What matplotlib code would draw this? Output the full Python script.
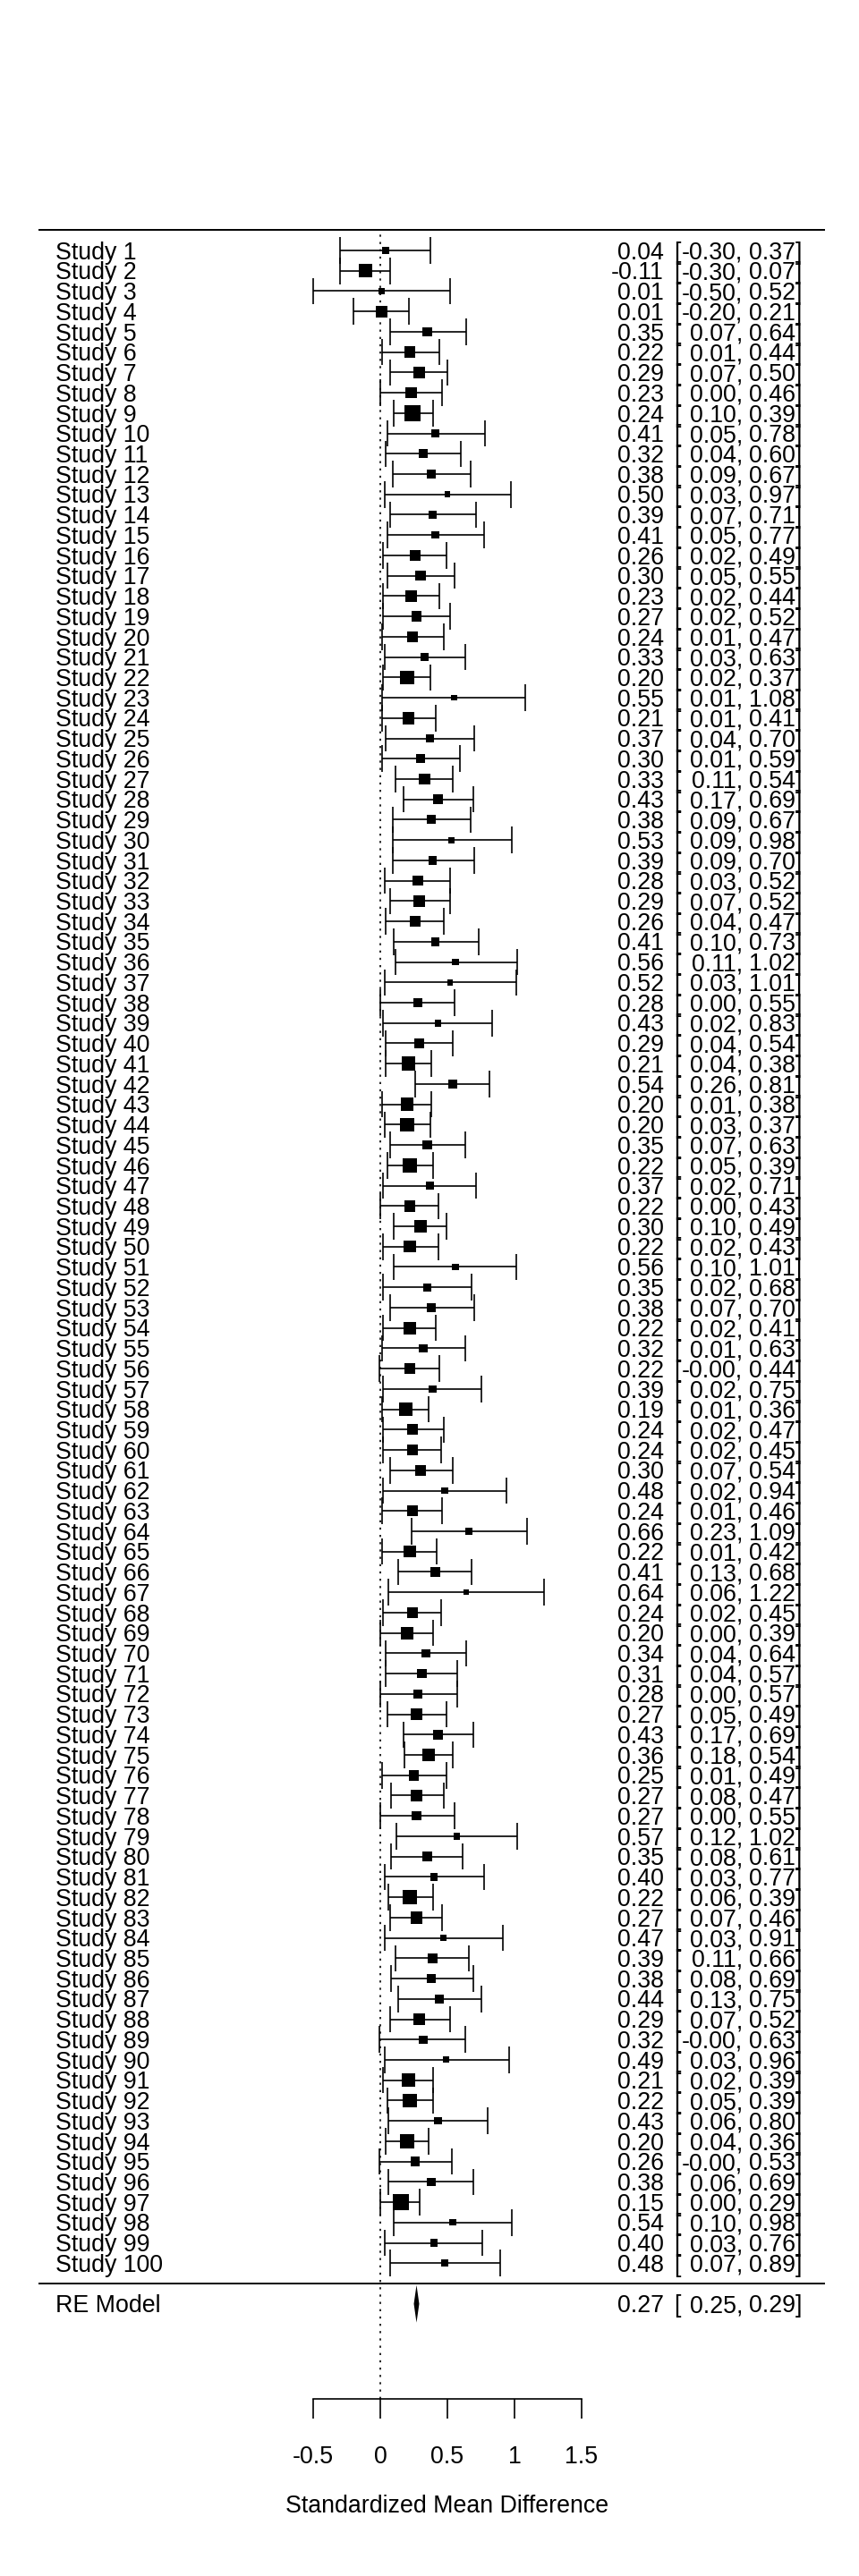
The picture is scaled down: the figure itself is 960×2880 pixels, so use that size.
import numpy as np
import matplotlib.pyplot as plt

plt.rcParams['font.family'] = ['Liberation Sans', 'DejaVu Sans']

# effect sizes (SMD) and 95% CI
est = [0.04, -0.11, 0.01, 0.01, 0.35, 0.22, 0.29, 0.23, 0.24, 0.41,
       0.32, 0.38, 0.50, 0.39, 0.41, 0.26, 0.30, 0.23, 0.27, 0.24,
       0.33, 0.20, 0.55, 0.21, 0.37, 0.30, 0.33, 0.43, 0.38, 0.53,
       0.39, 0.28, 0.29, 0.26, 0.41, 0.56, 0.52, 0.28, 0.43, 0.29,
       0.21, 0.54, 0.20, 0.20, 0.35, 0.22, 0.37, 0.22, 0.30, 0.22,
       0.56, 0.35, 0.38, 0.22, 0.32, 0.22, 0.39, 0.19, 0.24, 0.24,
       0.30, 0.48, 0.24, 0.66, 0.22, 0.41, 0.64, 0.24, 0.20, 0.34,
       0.31, 0.28, 0.27, 0.43, 0.36, 0.25, 0.27, 0.27, 0.57, 0.35,
       0.40, 0.22, 0.27, 0.47, 0.39, 0.38, 0.44, 0.29, 0.32, 0.49,
       0.21, 0.22, 0.43, 0.20, 0.26, 0.38, 0.15, 0.54, 0.40, 0.48]
ci_lb = [-0.30, -0.30, -0.50, -0.20, 0.07, 0.01, 0.07, 0.00, 0.10, 0.05,
         0.04, 0.09, 0.03, 0.07, 0.05, 0.02, 0.05, 0.02, 0.02, 0.01,
         0.03, 0.02, 0.01, 0.01, 0.04, 0.01, 0.11, 0.17, 0.09, 0.09,
         0.09, 0.03, 0.07, 0.04, 0.10, 0.11, 0.03, 0.00, 0.02, 0.04,
         0.04, 0.26, 0.01, 0.03, 0.07, 0.05, 0.02, 0.00, 0.10, 0.02,
         0.10, 0.02, 0.07, 0.02, 0.01, -0.004, 0.02, 0.01, 0.02, 0.02,
         0.07, 0.02, 0.01, 0.23, 0.01, 0.13, 0.06, 0.02, 0.00, 0.04,
         0.04, 0.00, 0.05, 0.17, 0.18, 0.01, 0.08, 0.00, 0.12, 0.08,
         0.03, 0.06, 0.07, 0.03, 0.11, 0.08, 0.13, 0.07, -0.004, 0.03,
         0.02, 0.05, 0.06, 0.04, -0.004, 0.06, 0.00, 0.10, 0.03, 0.07]
ci_ub = [0.37, 0.07, 0.52, 0.21, 0.64, 0.44, 0.50, 0.46, 0.39, 0.78,
         0.60, 0.67, 0.97, 0.71, 0.77, 0.49, 0.55, 0.44, 0.52, 0.47,
         0.63, 0.37, 1.08, 0.41, 0.70, 0.59, 0.54, 0.69, 0.67, 0.98,
         0.70, 0.52, 0.52, 0.47, 0.73, 1.02, 1.01, 0.55, 0.83, 0.54,
         0.38, 0.81, 0.38, 0.37, 0.63, 0.39, 0.71, 0.43, 0.49, 0.43,
         1.01, 0.68, 0.70, 0.41, 0.63, 0.44, 0.75, 0.36, 0.47, 0.45,
         0.54, 0.94, 0.46, 1.09, 0.42, 0.68, 1.22, 0.45, 0.39, 0.64,
         0.57, 0.57, 0.49, 0.69, 0.54, 0.49, 0.47, 0.55, 1.02, 0.61,
         0.77, 0.39, 0.46, 0.91, 0.66, 0.69, 0.75, 0.52, 0.63, 0.96,
         0.39, 0.39, 0.80, 0.36, 0.53, 0.69, 0.29, 0.98, 0.76, 0.89]
studies = ["Study %d" % (i + 1) for i in range(len(est))]

re_label = "RE Model"
re_est, re_lb, re_ub = 0.27, 0.25, 0.29

xticks = [-0.5, 0, 0.5, 1, 1.5]
xticklabels = ["-0.5", "0", "0.5", "1", "1.5"]
xlab = "Standardized Mean Difference"

est = np.array(est)
ci_lb = np.array(ci_lb)
ci_ub = np.array(ci_ub)
k = len(est)
rows = np.arange(k, 0, -1)

# pixel -> data helpers (x=0 at px 425, 150 px per unit; row spacing 22.73 px)
def xd(px):
    return (px - 425) / 150.0

def yd(py):
    return k - (py - 280) / 22.73

fs = 19.3
lw = 1.2
off = 0.425  # half cap height in rows, to centre text on the row

# square sizes from 1/se, scaled to 0.5 - 1.5
se = (ci_ub - ci_lb) / (2 * 1.96)
w = 1 / se
psize = (w - w.min()) / (w.max() - w.min()) + 0.5

fig = plt.figure(figsize=(9.6, 28.8), dpi=100)
ax = fig.add_axes([0, 0, 1, 1])
ax.set_xlim(xd(0), xd(960))
ax.set_ylim(yd(2880), yd(0))

for s in ['top', 'left', 'right']:
    ax.spines[s].set_visible(False)
ax.spines['bottom'].set_position(('data', yd(2682)))
ax.spines['bottom'].set_bounds(xticks[0], xticks[-1])
ax.spines['bottom'].set_linewidth(lw)
ax.set_yticks([])
ax.set_xticks(xticks, xticklabels)
ax.tick_params(axis='x', direction='out', length=15.8, width=lw, pad=22, labelsize=fs)

# horizontal rules
ax.hlines([k + 1, 0], xd(43), xd(922), color='black', lw=1.4)
# reference line at 0
ax.vlines(0, yd(2682), k + 1, color='black', lw=1.2, linestyles=(0, (1.4, 3.5)))

cap = 0.65
ax.hlines(rows, ci_lb, ci_ub, color='black', lw=lw)
ax.vlines(ci_lb, rows - cap, rows + cap, color='black', lw=lw)
ax.vlines(ci_ub, rows - cap, rows + cap, color='black', lw=lw)
ax.scatter(est, rows, s=(8.64 * psize) ** 2, marker='s', color='black', linewidths=0, zorder=3)

# summary diamond
h = 0.92
ax.fill([re_lb, re_est, re_ub, re_est], [-1, -1 + h, -1, -1 - h], color='black', lw=0)

for r, lab, e, lo, hi in zip(rows, studies, est, ci_lb, ci_ub):
    ax.text(xd(62), r - off, lab, ha='left', va='baseline', fontsize=fs)
    ax.text(xd(742), r - off, "%.2f" % e, ha='right', va='baseline', fontsize=fs)
    ax.text(xd(753), r - off, "[", ha='left', va='baseline', fontsize=fs)
    ax.text(xd(830), r - off, "%.2f," % lo, ha='right', va='baseline', fontsize=fs)
    ax.text(xd(896), r - off, "%.2f]" % hi, ha='right', va='baseline', fontsize=fs)

ax.text(xd(62), -1 - off, re_label, ha='left', va='baseline', fontsize=fs)
ax.text(xd(742), -1 - off, "%.2f" % re_est, ha='right', va='baseline', fontsize=fs)
ax.text(xd(753), -1 - off, "[", ha='left', va='baseline', fontsize=fs)
ax.text(xd(830), -1 - off, "%.2f," % re_lb, ha='right', va='baseline', fontsize=fs)
ax.text(xd(896), -1 - off, "%.2f]" % re_ub, ha='right', va='baseline', fontsize=fs)

ax.text(0.5, yd(2809), xlab, ha='center', va='baseline', fontsize=fs)

fig.savefig("out.png", dpi=100)
